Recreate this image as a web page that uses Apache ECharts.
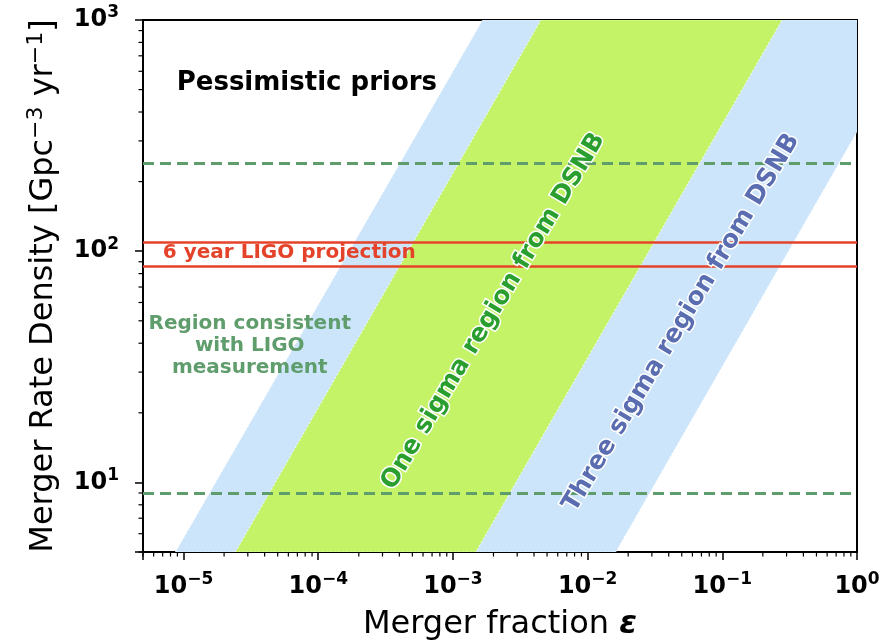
<!DOCTYPE html>
<html>
<head>
<meta charset="utf-8">
<script src="https://cdn.jsdelivr.net/npm/echarts@6/dist/echarts.min.js"></script>
<style>
  html, body { margin: 0; background: #fff; }
  #chart { width: 892px; height: 642px; }
</style>
</head>
<body>
<div id="chart"></div>
<script>
// axis ranges
const xRange = [5e-6, 1];
const yRange = [5, 1000];

// DSNB bands: merger fraction where each edge crosses rate 5 and rate 1000
const bandRates = [5, 1000];
const threeSigmaLower = [8.7e-6, 1.66e-3];
const oneSigmaLower = [2.43e-5, 4.5e-3];
const oneSigmaUpper = [1.48e-3, 0.278];
const threeSigmaUpper = [1.62e-2, 3.0];

// horizontal limits (Gpc^-3 yr^-1)
const ligoMeasured = [9, 240];
const ligoProjection = [86, 109];

// annotations
const annotationText = [
  'Pessimistic priors',
  '6 year LIGO projection',
  'Region consistent\nwith LIGO\nmeasurement',
  'One sigma region from DSNB',
  'Three sigma region from DSNB'
];
const annotationX = [8.9e-6, 6.1e-5, 3.1e-5, 2.0e-3, 4.97e-2];
const annotationY = [535, 98, 39, 55, 49];

// minor tick positions (2..9 x 10^k inside the ranges)
const minorTicks = (range) => {
  const out = [];
  for (let k = -7; k <= 3; k++) {
    for (let m = 2; m <= 9; m++) {
      const v = m * Math.pow(10, k);
      if (v >= range[0] * 0.999 && v <= range[1] * 1.001) out.push(v);
    }
  }
  return out;
};
const xMinor = minorTicks(xRange);
const yMinor = minorTicks(yRange);

const FONT = 'DejaVu Sans';
const blueBand = '#cce5fb';
const greenBand = '#c5f367';
const ligoGreen = '#5f9d6c';
const projRed = '#e4432a';

const annotationStyle = [
  { color: '#000', size: 26, align: 'left', rotate: 0, halo: 0 },
  { color: projRed, size: 20, align: 'center', rotate: 0, halo: 0 },
  { color: ligoGreen, size: 20, align: 'center', rotate: 0, halo: 0, lineHeight: 22 },
  { color: '#2a9f2f', size: 25, align: 'center', rotate: 59, halo: 3 },
  { color: '#5a6db0', size: 25, align: 'center', rotate: 59, halo: 3 }
];

const chart = echarts.init(document.getElementById('chart'));

const logLabel = (value) => {
  const e = Math.log10(value);
  const r = Math.round(e);
  if (Math.abs(e - r) > 1e-6) return '';
  return '{b|10}{s|' + (r < 0 ? '\u2212' : '') + Math.abs(r) + '}';
};

const tickRich = {
  b: { fontFamily: FONT, fontWeight: 'bold', fontSize: 24, color: '#000', lineHeight: 31 },
  s: { fontFamily: FONT, fontWeight: 'bold', fontSize: 17, color: '#000', verticalAlign: 'top' }
};

const bandItem = (lo, hi) => [lo[0], bandRates[0], lo[1], bandRates[1], hi[1], bandRates[1], hi[0], bandRates[0]];

const renderBand = (color) => (params, api) => {
  const pts = [0, 2, 4, 6].map(i => api.coord([api.value(i), api.value(i + 1)]));
  return {
    type: 'polygon',
    shape: { points: pts },
    style: { fill: color, stroke: 'rgba(255,255,255,0.8)', lineWidth: 1, lineDash: [2, 2] }
  };
};

const renderMinor = (axis) => (params, api) => {
  const p = api.coord([api.value(0), api.value(1)]);
  const shape = axis === 'x'
    ? { x1: p[0], y1: p[1], x2: p[0], y2: p[1] + 4.5 }
    : { x1: p[0], y1: p[1], x2: p[0] - 4.5, y2: p[1] };
  return { type: 'line', shape, style: { stroke: '#000', lineWidth: 1.2 } };
};

const hLine = (value, color, width, type) => ({
  yAxis: value,
  lineStyle: { color, width, type }
});

const option = {
  animation: false,
  backgroundColor: '#fff',
  grid: { left: 143, right: 35, top: 20, bottom: 90, show: false, containLabel: false, outerBoundsMode: 'none' },
  xAxis: [
    {
      type: 'log',
      min: xRange[0],
      max: xRange[1],
      name: '{a|Merger fraction }{e|\u03b5}',
      nameLocation: 'middle',
      nameGap: 57,
      nameTextStyle: {
        rich: {
          a: { fontFamily: FONT, fontSize: 32, color: '#000' },
          e: { fontFamily: FONT, fontSize: 32, fontWeight: 'bold', fontStyle: 'italic', color: '#000' }
        }
      },
      axisLine: { show: true, onZero: false, lineStyle: { color: '#000', width: 2 } },
      axisTick: { show: true, length: 8, lineStyle: { color: '#000', width: 1.5 } },
      axisLabel: { margin: 19, formatter: logLabel, rich: tickRich },
      splitLine: { show: false },
      minorTick: { show: false }
    },
    {
      type: 'log',
      position: 'top',
      min: xRange[0],
      max: xRange[1],
      axisLine: { show: true, onZero: false, lineStyle: { color: '#000', width: 2 } },
      axisTick: { show: false },
      axisLabel: { show: false },
      splitLine: { show: false }
    }
  ],
  yAxis: [
    {
      type: 'log',
      min: yRange[0],
      max: yRange[1],
      name: '{a|Merger Rate Density [Gpc}{s|\u22123}{a| yr}{s|\u22121}{a|]}',
      nameLocation: 'middle',
      nameGap: 80,
      nameTextStyle: {
        rich: {
          a: { fontFamily: FONT, fontSize: 32, color: '#000', lineHeight: 38 },
          s: { fontFamily: FONT, fontSize: 22, color: '#000', verticalAlign: 'top' }
        }
      },
      axisLine: { show: true, onZero: false, lineStyle: { color: '#000', width: 2 } },
      axisTick: { show: true, length: 8, lineStyle: { color: '#000', width: 1.5 } },
      axisLabel: { margin: 24, formatter: logLabel, rich: tickRich },
      splitLine: { show: false }
    },
    {
      type: 'log',
      position: 'right',
      min: yRange[0],
      max: yRange[1],
      axisLine: { show: true, onZero: false, lineStyle: { color: '#000', width: 2 } },
      axisTick: { show: false },
      axisLabel: { show: false },
      splitLine: { show: false }
    }
  ],
  series: [
    {
      name: 'Three sigma',
      type: 'custom',
      clip: true,
      z: 1,
      encode: { x: [0, 2, 4, 6], y: [1, 3, 5, 7] },
      renderItem: renderBand(blueBand),
      data: [bandItem(threeSigmaLower, threeSigmaUpper)]
    },
    {
      name: 'One sigma',
      type: 'custom',
      clip: true,
      z: 2,
      encode: { x: [0, 2, 4, 6], y: [1, 3, 5, 7] },
      renderItem: renderBand(greenBand),
      data: [bandItem(oneSigmaLower, oneSigmaUpper)]
    },
    {
      name: 'LIGO limits',
      type: 'line',
      z: 3,
      data: [],
      markLine: {
        silent: true,
        symbol: 'none',
        label: { show: false },
        data: [
          ...ligoMeasured.map(v => hLine(v, ligoGreen, 3, [11, 6])),
          ...ligoProjection.map(v => hLine(v, projRed, 2.5, 'solid'))
        ]
      }
    },
    {
      name: 'x minor ticks',
      type: 'custom',
      clip: false,
      silent: true,
      encode: { x: 0, y: 1 },
      renderItem: renderMinor('x'),
      data: xMinor.map(v => [v, yRange[0]])
    },
    {
      name: 'y minor ticks',
      type: 'custom',
      clip: false,
      silent: true,
      encode: { x: 0, y: 1 },
      renderItem: renderMinor('y'),
      data: yMinor.map(v => [xRange[0], v])
    },
    {
      name: 'annotations',
      type: 'custom',
      clip: false,
      silent: true,
      z: 10,
      encode: { x: 0, y: 1 },
      renderItem: (params, api) => {
        const p = api.coord([api.value(0), api.value(1)]);
        const s = annotationStyle[params.dataIndex];
        return {
          type: 'text',
          x: p[0],
          y: p[1],
          rotation: s.rotate * Math.PI / 180,
          style: {
            text: annotationText[params.dataIndex],
            fill: s.color,
            fontFamily: FONT,
            fontWeight: 'bold',
            fontSize: s.size,
            lineHeight: s.lineHeight,
            align: s.align,
            verticalAlign: 'middle',
            stroke: s.halo ? '#fff' : null,
            lineWidth: s.halo
          }
        };
      },
      data: annotationX.map((x, i) => [x, annotationY[i]])
    }
  ]
};

chart.setOption(option);
</script>
</body>
</html>
